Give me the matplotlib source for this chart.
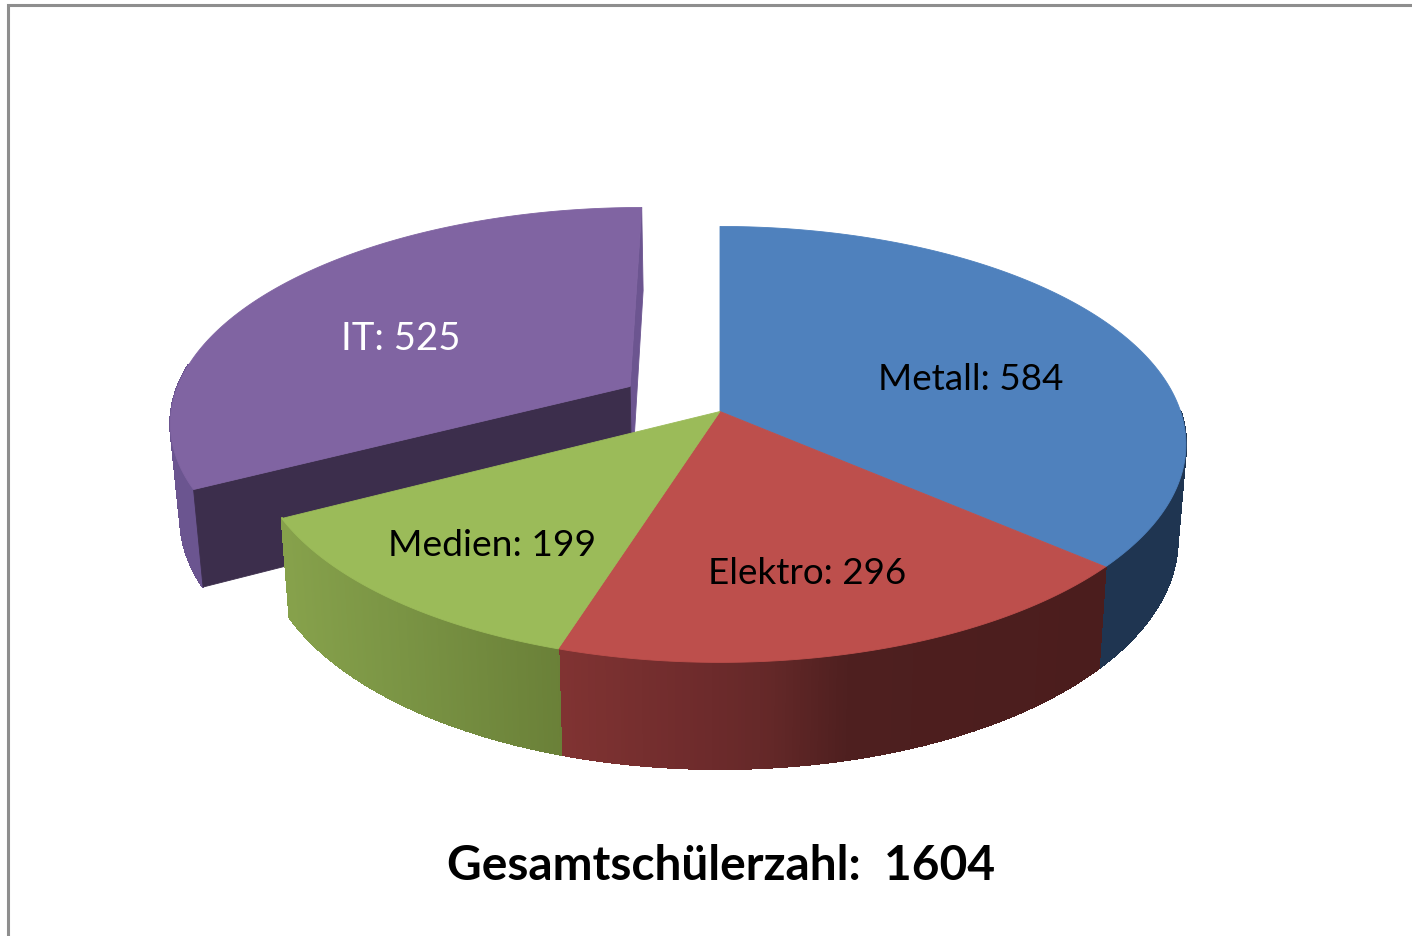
import numpy as np
import matplotlib
matplotlib.use("Agg")
import matplotlib.pyplot as plt
from matplotlib.colors import to_rgb

categories = ["Metall", "Elektro", "Medien", "IT"]
values = [584, 296, 199, 525]
total_label = "Gesamtschülerzahl:  1604"
top_colors = ["#4f81bd", "#bd4f4c", "#9bbb59", "#8064a2"]
label_colors = ["black", "black", "black", "white"]
label_pos = [(971, 380), (807, 574), (492, 546), (401, 339)]
label_sizes = [26.6, 26.6, 26.8, 27.6]

# perspective model of the tilted pie, in figure pixels
CX, K = 720.0, 0.151
TOP = dict(A=460.6, B=213.0, Y0=412.5)
BOT = dict(A=452.3, B=224.0, Y0=506.0)
EXPLODE_IT = 0.232

plt.rcParams["font.family"] = ["Lato", "DejaVu Sans"]
fig = plt.figure(figsize=(14.12, 9.37), dpi=100)
ax = fig.add_axes([0, 0, 1, 1])
ax.set_xlim(0, 1412)
ax.set_ylim(937, 0)
ax.axis("off")


def project(X, Y, plane):
    d = 1 + K * np.asarray(Y)
    return CX + plane["A"] * np.asarray(X) / d, plane["Y0"] - plane["B"] * np.asarray(Y) / d


def arc(a0, a1, off, plane, n=160):
    a = np.radians(np.linspace(a0, a1, n))
    return project(np.sin(a) + off[0], np.cos(a) + off[1], plane)


def fill(xs, ys, c, z, aa=True):
    ax.fill(xs, ys, color=c, lw=0.6 if aa else 1.0, zorder=z, joinstyle="round", antialiased=aa)


def wall(a0, a1, off, stops_x, stops_c, z):
    """Outer rim wall, shaded across the picture in narrow strips."""
    n = 170
    xt, yt = arc(a0, a1, off, TOP, n)
    xb, yb = arc(a0, a1, off, BOT, n)
    rgb = np.array([to_rgb(c) for c in stops_c])
    for i in range(n - 1):
        xm = (xt[i] + xt[i + 1]) / 2
        col = [np.interp(xm, stops_x, rgb[:, j]) for j in range(3)]
        fill([xt[i], xt[i + 1], xb[i + 1], xb[i]], [yt[i], yt[i + 1], yb[i + 1], yb[i]], col, z, aa=False)


angles = np.concatenate([[0], np.cumsum(values) / np.sum(values) * 360])
mid_it = np.radians((angles[3] + angles[4]) / 2)
off_it = (EXPLODE_IT * np.sin(mid_it), EXPLODE_IT * np.cos(mid_it))
none = (0.0, 0.0)

# exploded slice (IT): walls first, then its top face
a0, a1 = angles[3], angles[4]
x1t, y1t = project(np.sin(np.radians(a1)) + off_it[0], np.cos(np.radians(a1)) + off_it[1], TOP)
x1b, y1b = project(np.sin(np.radians(a1)) + off_it[0], np.cos(np.radians(a1)) + off_it[1], BOT)
xat, yat = project(*off_it, TOP)
xab, yab = project(*off_it, BOT)
fill([xat, x1t, x1b, xab], [yat, y1t, y1b, yab], "#6c5590", 1)
wall(a0, a0 + 34, off_it, [150, 300], ["#6b5590", "#6b5590"], 1)
x0t, y0t = project(np.sin(np.radians(a0)) + off_it[0], np.cos(np.radians(a0)) + off_it[1], TOP)
x0b, y0b = project(np.sin(np.radians(a0)) + off_it[0], np.cos(np.radians(a0)) + off_it[1], BOT)
fill([xat, x0t, x0b, xab], [yat, y0t, y0b, yab], "#3c2e4c", 2)
xr, yr = arc(a0, a1, off_it, TOP)
fill(np.r_[xat, xr], np.r_[yat, yr], top_colors[3], 3)

# outer walls of the joined slices
wall(angles[0] + 90, angles[1], none, [0, 1412], ["#1f3551", "#1f3551"], 4)
wall(angles[1], angles[2], none, [560, 700, 770, 850, 1100],
     ["#803332", "#6e2b2c", "#642828", "#4e1f1f", "#4b1d1d"], 5)
wall(angles[2], angles[3], none, [285, 400, 560],
     ["#86a14b", "#7a9444", "#6a8038"], 5)

# top faces
for i in range(3):
    xr, yr = arc(angles[i], angles[i + 1], none, TOP)
    fill(np.r_[CX, xr], np.r_[TOP["Y0"], yr], top_colors[i], 6 + i * 0.1)

for name, v, (lx, ly), c, s in zip(categories, values, label_pos, label_colors, label_sizes):
    ax.text(lx, ly, f"{name}: {v}", color=c, fontsize=s, ha="center", va="center", zorder=10)

ax.text(721, 866, total_label, fontsize=34.5, fontweight="bold", color="black",
        ha="center", va="center", zorder=10)

# chart frame, cropped at the right and bottom
ax.plot([8, 8, 1412], [937, 6, 6], color="#8e8e8e", lw=2.2, zorder=0, solid_joinstyle="miter")

fig.savefig("out.png", dpi=100, facecolor="white")
